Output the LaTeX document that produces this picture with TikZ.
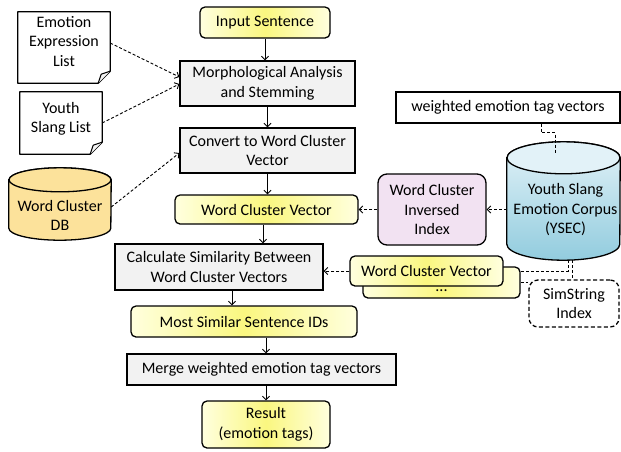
\documentclass[tikz,border=0pt]{standalone}
\usepackage{fontspec}
\setmainfont{Carlito}
\usetikzlibrary{arrows.meta,shadows,calc}

\definecolor{ypale}{RGB}{255,255,222}
\definecolor{ymid}{RGB}{250,247,128}
\definecolor{gbox}{RGB}{242,242,242}
\definecolor{dbfill}{RGB}{252,226,155}
\definecolor{pinkfill}{RGB}{242,226,242}
\definecolor{blueTop}{RGB}{226,242,248}
\definecolor{blueBot}{RGB}{146,204,222}

\pgfdeclarelayer{background}
\pgfsetlayers{background,main}

\begin{document}
\begin{tikzpicture}[x=1pt,y=-1pt,
  every node/.style={font=\fontsize{16}{19.5}\selectfont, inner sep=0pt, align=center},
  base/.style={draw=black, line width=1.3pt},
  graybox/.style={base, fill=gbox,
    drop shadow={shadow xshift=1.2pt, shadow yshift=-1.2pt, opacity=0.2, fill=black}},
  yellowbox/.style={base, rounded corners=5pt, left color=ypale, right color=ypale, middle color=ymid},
  flow/.style={-{Straight Barb[length=3.5pt,width=7pt]}, line width=0.9pt},
  dline/.style={line width=0.9pt, dash pattern=on 3pt off 2pt},
  dflow/.style={flow, dline},
]
\useasboundingbox (0,0) rectangle (621,451);

% main processing chain
\node[yellowbox, minimum width=130pt, minimum height=31pt] (in) at (265,22.5) {Input Sentence};
\node[graybox, minimum width=175pt, minimum height=45pt] (morph) at (267.5,83.5) {Morphological Analysis\\and Stemming};
\node[graybox, minimum width=175pt, minimum height=45pt] (conv) at (267.5,150.5) {Convert to Word Cluster\\Vector};
\node[yellowbox, minimum width=183pt, minimum height=29pt] (wcv) at (266.5,209.5) {Word Cluster Vector};
\node[graybox, minimum width=208pt, minimum height=46pt] (calc) at (219,267) {Calculate Similarity Between\\Word Cluster Vectors};
\node[yellowbox, minimum width=226pt, minimum height=31pt] (most) at (244,321.5) {Most Similar Sentence IDs};
\node[graybox, minimum width=269pt, minimum height=31pt] (merge) at (261.5,369.5) {Merge weighted emotion tag vectors};
\node[yellowbox, minimum width=128pt, minimum height=47pt] (res) at (266,424.5) {Result\\(emotion tags)};

% resources on the left
\node[minimum width=92pt, minimum height=71pt, label={[yshift=6pt]center:Emotion\\Expression\\List}] (emo) at (64,47.5) {};
\node[minimum width=82pt, minimum height=62pt, label={[yshift=4pt]center:Youth\\Slang List}] (slang) at (61,123) {};
\node[minimum width=102pt, minimum height=72pt, label={[yshift=-11.5pt]center:Word Cluster\\DB}] (db) at (60,204) {};

% corpus side
\node[base, fill=white, minimum width=224pt, minimum height=31pt] (wetv) at (508,107.5) {weighted emotion tag vectors};
\node[minimum width=113pt, minimum height=118pt, label={[yshift=-9pt,xshift=2pt]center:Youth Slang\\Emotion Corpus\\(YSEC)}] (ysec) at (563.5,201) {};
\node[base, rounded corners=9pt, fill=pinkfill, minimum width=108pt, minimum height=71pt] (inv) at (432,209.5) {Word Cluster\\Inversed\\Index};
\node[yellowbox, minimum width=157pt, minimum height=31pt, text height=17pt, text depth=0pt] (wcvb) at (441.5,282.5) {...};
\node[yellowbox, minimum width=153pt, minimum height=30pt] (wcvf) at (426.5,271) {Word Cluster Vector};
\node[base, fill=white, dash pattern=on 4pt off 2.5pt, rounded corners=9pt, minimum width=90pt, minimum height=47pt] (sim) at (574,303.5) {SimString\\Index};

% document and cylinder outlines, under their texts
\begin{pgfonlayer}{background}
  \foreach \d in {emo,slang}{
    \draw[base, fill=white, line join=round] (\d.north west) -- (\d.north east)
      -- ([yshift=12pt]\d.south east) -- ([xshift=-12pt]\d.south east) -- (\d.south west) -- cycle;
    \draw[line width=1pt, fill=gbox, line join=round] ([xshift=-12pt]\d.south east)
      -- ([xshift=-9pt,yshift=9pt]\d.south east) -- ([yshift=12pt]\d.south east);
  }
  \draw[base, fill=dbfill] ([yshift=-12pt]db.north west) -- ([yshift=12pt]db.south west)
    arc[start angle=180, end angle=360, x radius=51pt, y radius=12pt]
    -- ([yshift=-12pt]db.north east)
    arc[start angle=0, end angle=180, x radius=51pt, y radius=12pt] -- cycle;
  \draw[base, fill=dbfill] ([yshift=-12pt]db.north) ellipse[x radius=51pt, y radius=12pt];

  \draw[base, top color=blueTop, bottom color=blueBot] ([yshift=-16pt]ysec.north west) -- ([yshift=16pt]ysec.south west)
    arc[start angle=180, end angle=360, x radius=56.5pt, y radius=16pt]
    -- ([yshift=-16pt]ysec.north east)
    arc[start angle=0, end angle=180, x radius=56.5pt, y radius=16pt] -- cycle;
  \draw[base, fill=blueTop] ([yshift=-16pt]ysec.north) ellipse[x radius=56.5pt, y radius=16pt];
\end{pgfonlayer}

% main flow arrows
\draw[flow] (in.south) -- (in.south |- morph.north);
\draw[flow] (morph.south) -- (conv.north);
\draw[flow] (conv.south) -- (conv.south |- wcv.north);
\draw[flow] ([xshift=-3.5pt]wcv.south) -- ([xshift=-3.5pt]wcv.south |- calc.north);
\draw[flow] ([xshift=13pt]calc.south) -- ([xshift=13pt]calc.south |- most.north);
\draw[flow] (res.north |- most.south) -- (res.north |- merge.north);
\draw[flow] (res.north |- merge.south) -- (res.north);

% resource links
\draw[dflow] ([yshift=4.5pt]emo.east) -- ([yshift=6.5pt]morph.west);
\draw[dflow] (slang.east) -- ([yshift=-0.5pt]morph.west);
\draw[dflow] ([yshift=-3pt]db.east) -- ([yshift=-2.5pt]conv.west);
\draw[dflow] (ysec.west |- inv.east) -- (inv.east);
\draw[dflow] (inv.west) -- (wcv.east);
\draw[dflow] (wcvf.west) -- (wcvf.west -| calc.east);
\draw[dline] ([xshift=33pt]wetv.south) -- ++(0,9) -| ([xshift=-8.5pt,yshift=-11pt]ysec.north);
\draw[dline] ([xshift=4.5pt]ysec.south) |- (wcvf.east -| wcvb.east);
\draw[dline] ([xshift=8.5pt]ysec.south) -- ([xshift=8.5pt]ysec.south |- sim.north);
\draw[dline] (wcvb.east) -- (sim.west |- wcvb.east);
\end{tikzpicture}
\end{document}
